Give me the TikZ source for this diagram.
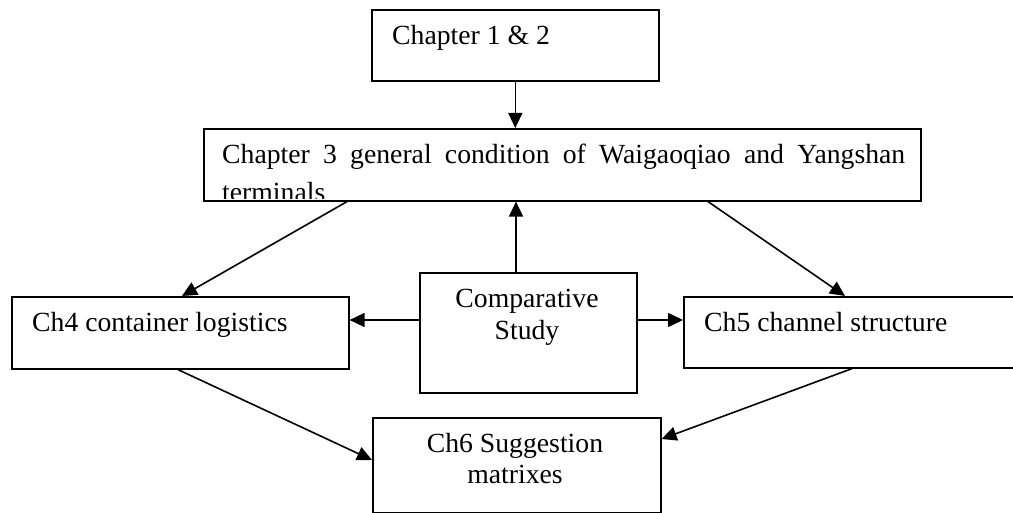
\documentclass[tikz,border=0pt]{standalone}
\usepackage{fontspec}
\setmainfont{Liberation Serif}
\usetikzlibrary{arrows.meta,calc}
\begin{document}
\begin{tikzpicture}[x=1pt,y=-1pt,
  box/.style={draw, line width=1.6pt, inner sep=0pt, anchor=north west},
  lbl/.style={inner sep=0pt, anchor=base west, font=\fontsize{27.7}{31.5}\selectfont},
  clbl/.style={inner sep=0pt, anchor=base, font=\fontsize{27.7}{31.5}\selectfont},
  arr/.style={line width=1.6pt, -{Triangle[length=15pt,width=14pt]}}]
\clip (0,0) rectangle (1013,513);

% boxes
\node[box, minimum width=287pt, minimum height=71pt]  (c12) at (371,9)   {};
\node[box, minimum width=717pt, minimum height=72pt]  (c3)  at (203,128) {};
\node[box, minimum width=337pt, minimum height=72pt]  (ch4) at (11,296)  {};
\node[box, minimum width=217pt, minimum height=120pt] (cs)  at (419,272) {};
\node[box, minimum width=400pt, minimum height=71pt]  (ch5) at (683,296) {};
\node[box, minimum width=288pt, minimum height=95pt]  (ch6) at (372,417) {};

% texts
\node[lbl] (t12) at (392,45) {Chapter 1 \& 2};
\node[lbl] (t3a) at (222,164) {\makebox[683pt][s]{Chapter 3 general condition of Waigaoqiao and Yangshan}};
\begin{scope}
  % the second line overflows the box and is cut off at its lower edge
  \clip (c3.north west) rectangle ($(c3.south east)+(0,-3)$);
  \node[lbl] (t3b) at (222,202) {terminals};
\end{scope}
\node[lbl] (t4) at (32,332) {Ch4 container logistics};
\node[clbl] (tcs1) at (527,308) {Comparative};
\node[clbl] (tcs2) at (527,340) {Study};
\node[lbl] (t5) at (704,332) {Ch5 channel structure};
\node[clbl] (t6a) at (515,452) {Ch6 Suggestion};
\node[clbl] (t6b) at (515,483) {matrixes};

% connectors
\draw[arr] (c12.south) -- (c12.south |- c3.north);
\coordinate (csup) at ($(cs.north west)+(97,0)$);
\draw[arr] (csup) -- (csup |- c3.south);
\coordinate (csl) at ($(cs.north west)+(0,48)$);
\coordinate (csr) at ($(cs.north east)+(0,48)$);
\draw[arr] (csl) -- (csl -| ch4.east);
\draw[arr] (csr) -- (csr -| ch5.west);
\draw[arr] ($(c3.south west)+(144,0)$) -- ($(ch4.north west)+(171,0)$);
\draw[arr] ($(c3.south west)+(505,0)$) -- ($(ch5.north west)+(162,0)$);
\draw[arr] ($(ch4.south west)+(167,0)$) -- ($(ch6.north west)+(0,43)$);
\draw[arr] ($(ch5.south west)+(169,0)$) -- ($(ch6.north east)+(0,22)$);
\end{tikzpicture}
\end{document}
